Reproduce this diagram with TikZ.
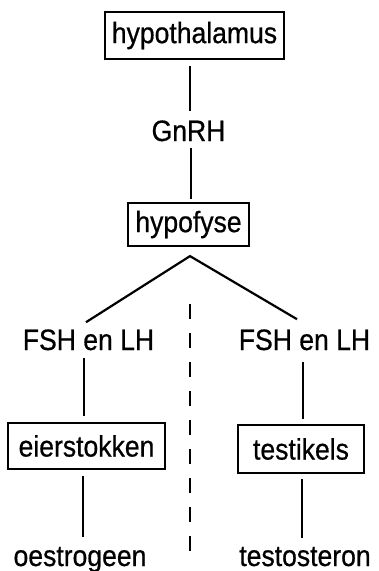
\documentclass[tikz,border=0pt]{standalone}
\usepackage{fontspec}
\setmainfont{Liberation Sans}[FakeStretch=0.9,FakeBold=0.6]
\begin{document}
\begin{tikzpicture}[x=1pt,y=-1pt,
  txt/.style={font=\fontsize{29.5}{32}\selectfont},
  box/.style={txt, draw, line width=2.2pt, inner sep=0pt},
  lbl/.style={txt, inner sep=0pt, anchor=base},
  conn/.style={line width=2.2pt},
  sepline/.style={line width=2.2pt, dash pattern=on 15pt off 14pt}]
\fill[white] (0,0) rectangle (378,571);
\useasboundingbox (0,0) rectangle (378,571);
% nodes
\node[box, minimum width=179pt, minimum height=47pt] (hyp) at (194.5,35.5) {hypothalamus};
\node[lbl] (gnrh) at (188.5,141) {GnRH};
\node[box, minimum width=121pt, minimum height=43pt] (hypo) at (188.5,224.5) {hypofyse};
\node[lbl] (fshL) at (88.5,350) {FSH en LH};
\node[lbl] (fshR) at (304.5,350) {FSH en LH};
\node[box, minimum width=157pt, minimum height=46pt] (eier) at (86.5,446) {eierstokken};
\node[box, minimum width=126pt, minimum height=48pt] (test) at (301,449) {testikels};
\node[lbl] (oes) at (80,566) {oestrogeen};
\node[lbl] (tes) at (305,566) {testosteron};
% helper coordinates
\coordinate (apex) at ([xshift=1.5pt,yshift=-9pt]hypo.south);
\coordinate (dtop) at ([yshift=-48pt]apex);
\coordinate (dbot) at ([yshift=-297pt]apex);
% connectors
\draw[conn] ([xshift=-4.5pt,yshift=-6pt]hyp.south) -- ([xshift=1.5pt,yshift=9.7pt]gnrh.north);
\draw[conn] ([xshift=2.5pt,yshift=-7pt]gnrh.south) -- ([xshift=2.5pt,yshift=3pt]hypo.north);
\draw[conn] ([xshift=-2.5pt,yshift=7pt]fshL.north) -- (apex) -- ([xshift=-7.5pt,yshift=10pt]fshR.north);
\draw[conn] ([xshift=-4.5pt,yshift=-8pt]fshL.south) -- ([xshift=-2.5pt,yshift=6pt]eier.north);
\draw[conn] ([xshift=-3.5pt,yshift=-6pt]eier.south) -- ([xshift=3pt,yshift=9.5pt]oes.north);
\draw[conn] ([xshift=-1.5pt,yshift=-12pt]fshR.south) -- ([xshift=2pt,yshift=5pt]test.north);
\draw[conn] ([xshift=1pt,yshift=-5pt]test.south) -- ([xshift=-3pt,yshift=8.5pt]tes.north);
\draw[sepline] (dtop) -- (dbot);
\end{tikzpicture}
\end{document}
